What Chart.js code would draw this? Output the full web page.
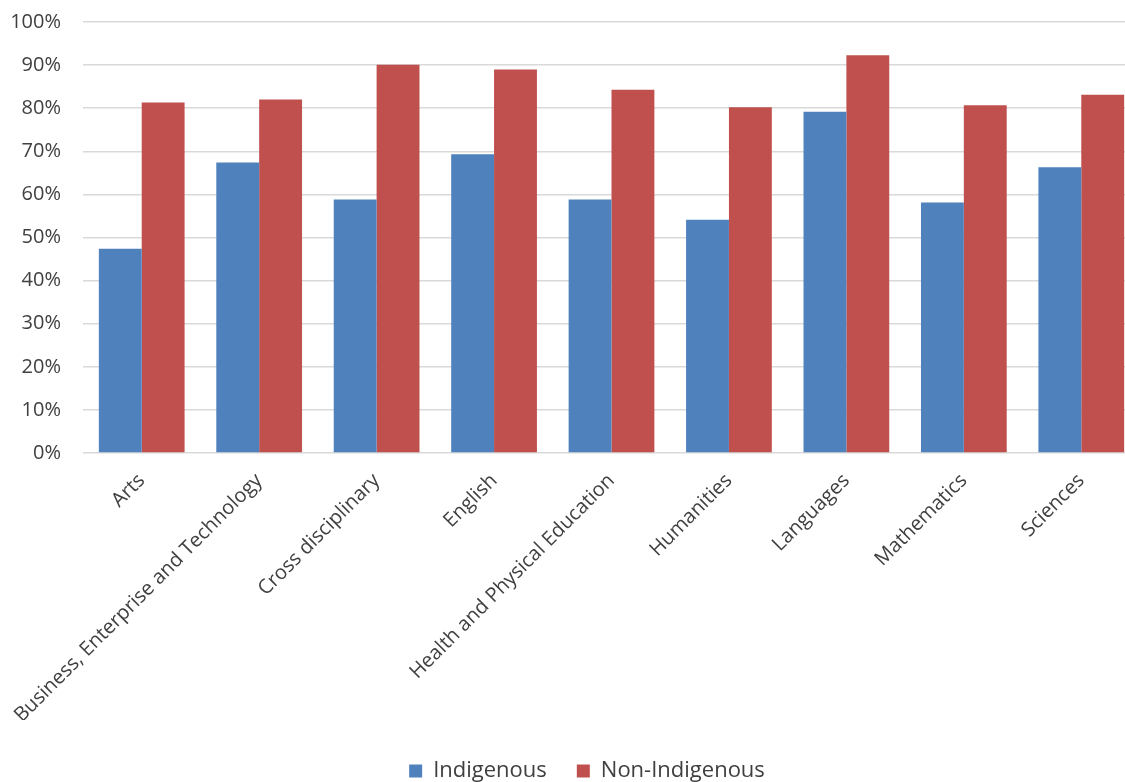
<!DOCTYPE html>
<html>
<head>
<meta charset="utf-8">
<script src="https://cdn.jsdelivr.net/npm/chart.js@4.4.0/dist/chart.umd.min.js"></script>
<style>
html,body{margin:0;padding:0;background:#fff;overflow:hidden;}
#wrap{width:1125px;height:782px;position:relative;overflow:hidden;}
canvas{display:block;}
</style>
</head>
<body>
<div id="wrap"><canvas id="c" width="1170" height="782"></canvas></div>
<script>
const categories = ["Arts","Business, Enterprise and Technology","Cross disciplinary","English","Health and Physical Education","Humanities","Languages","Mathematics","Sciences"];
const indigenous = [47.4,67.4,58.8,69.3,58.8,54.1,79.2,58.1,66.3];
const nonIndigenous = [81.3,82.0,90.1,89.0,84.3,80.2,92.3,80.7,83.1];
const yTicks = [0,10,20,30,40,50,60,70,80,90,100];

const txt = '#404040';
const shiftLegend = {
  id:'shiftLegend',
  afterLayout(chart){
    const l = chart.legend;
    if(!l) return;
    l.left += 17; l.right += 17;
    l.top += 10; l.bottom += 10;
  }
};
new Chart(document.getElementById('c'), {
  type: 'bar',
  data: {
    labels: categories,
    datasets: [
      {label:'Indigenous', data: indigenous, backgroundColor:'#4F81BD', borderWidth:0},
      {label:'Non-Indigenous', data: nonIndigenous, backgroundColor:'#C0504D', borderWidth:0}
    ]
  },
  plugins:[shiftLegend],
  options: {
    responsive:false,
    animation:false,
    layout:{padding:{top:22,right:30,left:0,bottom:0}},
    datasets:{bar:{categoryPercentage:0.73,barPercentage:1}},
    plugins:{
      tooltip:{enabled:false},
      legend:{
        position:'bottom',
        labels:{font:{family:'Open Sans',size:22},color:txt,boxWidth:13,boxHeight:13,padding:30}
      }
    },
    scales:{
      x:{
        grid:{display:false},
        border:{display:false},
        afterFit:(ax)=>{ax.height = 267; ax.paddingTop = 0; ax.paddingBottom = 0;},
        ticks:{font:{family:'Open Sans',size:20},color:txt,maxRotation:45,minRotation:45,autoSkip:false,padding:8}
      },
      y:{
        min:0,max:100,
        afterBuildTicks:(ax)=>{ax.ticks = yTicks.map(v=>({value:v}));},
        afterFit:(ax)=>{ax.width = 83; ax.paddingTop = 0; ax.paddingBottom = 0;},
        grid:{color:'#d9d9d9',lineWidth:1.5,drawTicks:false},
        border:{display:false},
        ticks:{font:{family:'Open Sans',size:20},color:txt,padding:22,callback:v=>v+'%'}
      }
    }
  }
});
</script>
</body>
</html>
